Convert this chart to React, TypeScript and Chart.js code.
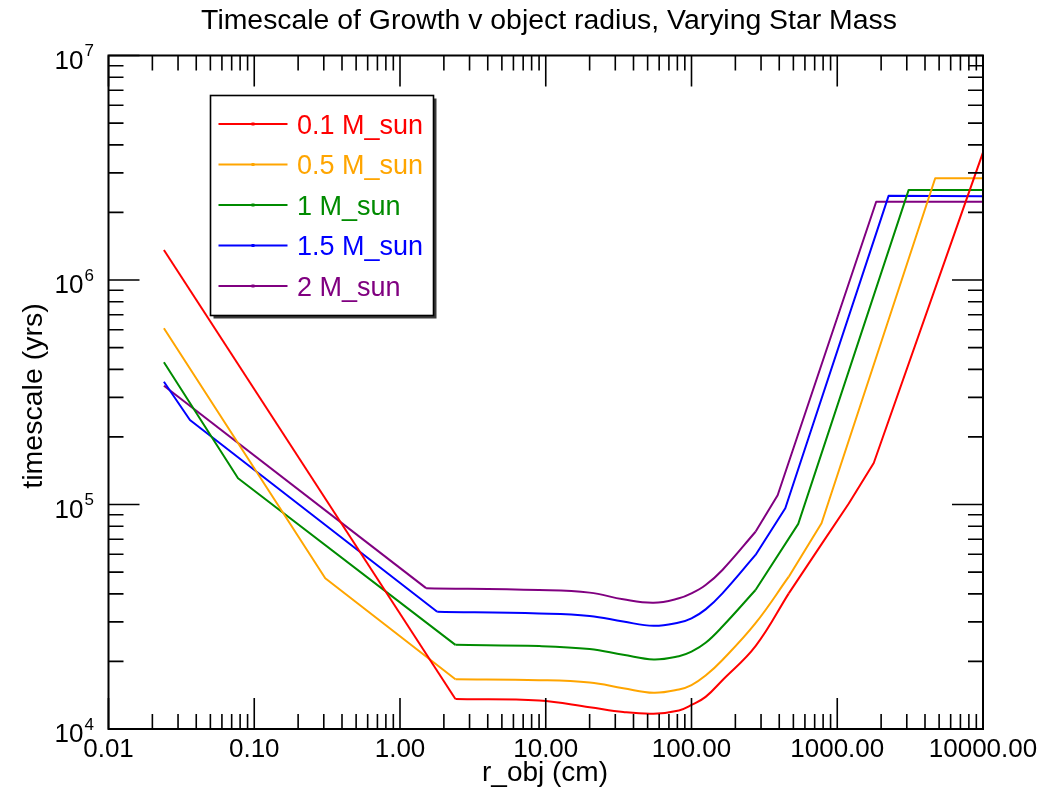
import React, { useEffect, useRef } from "react";
import { Chart, registerables } from "chart.js";

Chart.register(...registerables);

// ---- data ----
const seriesLabels = ["0.1 M_sun", "0.5 M_sun", "1 M_sun", "1.5 M_sun", "2 M_sun"];
const seriesColors = ["#ff0000", "#ffa500", "#008b00", "#0000ff", "#800080"];

const rRed = [0.024, 2.4, 9.0, 20, 34, 55, 82, 100, 125, 163, 275, 465, 787, 1200, 1780, 10000];
const tRed = [1.36e6, 1.36e4, 1.34e4, 1.25e4, 1.19e4, 1.17e4, 1.21e4, 1.28e4, 1.39e4, 1.65e4, 2.34e4, 4.02e4, 6.71e4, 1.01e5, 1.53e5, 3.7e6];

const rOrange = [0.024, 0.307, 2.4, 9.0, 20, 34, 55, 82, 100, 125, 163, 275, 465, 780, 4700, 10000];
const tOrange = [6.1e5, 4.69e4, 1.665e4, 1.65e4, 1.61e4, 1.52e4, 1.45e4, 1.5e4, 1.57e4, 1.73e4, 2.03e4, 2.96e4, 4.77e4, 8.25e4, 2.84e6, 2.84e6];

const rGreen = [0.024, 0.0774, 2.4, 9.0, 20, 34, 55, 82, 100, 125, 163, 275, 540, 3090, 10000];
const tGreen = [4.3e5, 1.31e5, 2.37e4, 2.34e4, 2.27e4, 2.14e4, 2.04e4, 2.11e4, 2.21e4, 2.42e4, 2.86e4, 4.16e4, 8.2e4, 2.52e6, 2.52e6];

const rBlue = [0.024, 0.0362, 1.8, 9.0, 20, 34, 55, 82, 100, 125, 163, 275, 440, 2250, 10000];
const tBlue = [3.52e5, 2.38e5, 3.33e4, 3.27e4, 3.19e4, 3.01e4, 2.88e4, 2.98e4, 3.11e4, 3.41e4, 4.02e4, 5.96e4, 9.62e4, 2.37e6, 2.36e6];

const rPurple = [0.024, 1.51, 9.0, 20, 34, 55, 82, 100, 125, 163, 275, 390, 1850, 10000];
const tPurple = [3.38e5, 4.24e4, 4.16e4, 4.05e4, 3.78e4, 3.65e4, 3.82e4, 4.02e4, 4.38e4, 5.11e4, 7.56e4, 1.1e5, 2.23e6, 2.23e6];

// index range of each series that is a smooth curve (the dip); the rest is straight
const curveStart = [1, 2, 2, 2, 1];
const curveEnd = [11, 12, 11, 11, 10];

const xTickValues = [0.01, 0.1, 1, 10, 100, 1000, 10000];
const xTickLabels = ["0.01", "0.10", "1.00", "10.00", "100.00", "1000.00", "10000.00"];
const yTickValues = [1e4, 1e5, 1e6, 1e7];
const yTickExponents = ["4", "5", "6", "7"];

const chartTitle = "Timescale of Growth v object radius, Varying Star Mass";
const xTitle = "r_obj (cm)";
const yTitle = "timescale (yrs)";

const FONT = '"Liberation Sans", Arial, Helvetica, sans-serif';

const seriesX = [rRed, rOrange, rGreen, rBlue, rPurple];
const seriesY = [tRed, tOrange, tGreen, tBlue, tPurple];

const framePlugin = {
  id: "idlFrame",
  afterDraw(chart: any) {
    const ctx = chart.ctx as CanvasRenderingContext2D;
    const xs = chart.scales.x;
    const ys = chart.scales.y;
    const { left, right, top, bottom } = chart.chartArea;
    ctx.save();
    ctx.strokeStyle = "#000";
    ctx.fillStyle = "#000";

    // frame
    ctx.lineWidth = 2;
    ctx.strokeRect(left, top, right - left, bottom - top);

    // ticks (inward, on all four sides)
    ctx.lineWidth = 1.6;
    const major = 31;
    const minor = 15;
    ctx.beginPath();
    for (let e = -2; e <= 4; e++) {
      for (let m = 1; m <= 9; m++) {
        const v = m * Math.pow(10, e);
        if (v > 10000 * 1.0001) break;
        const px = xs.getPixelForValue(v);
        const len = m === 1 ? major : minor;
        ctx.moveTo(px, bottom);
        ctx.lineTo(px, bottom - len);
        ctx.moveTo(px, top);
        ctx.lineTo(px, top + len);
      }
    }
    for (let e = 4; e <= 7; e++) {
      for (let m = 1; m <= 9; m++) {
        const v = m * Math.pow(10, e);
        if (v > 1e7 * 1.0001) break;
        const py = ys.getPixelForValue(v);
        const len = m === 1 ? major : minor;
        ctx.moveTo(left, py);
        ctx.lineTo(left + len, py);
        ctx.moveTo(right, py);
        ctx.lineTo(right - len, py);
      }
    }
    ctx.stroke();

    // x tick labels
    ctx.font = `26px ${FONT}`;
    ctx.textAlign = "center";
    ctx.textBaseline = "alphabetic";
    xTickValues.forEach((v, i) => {
      ctx.fillText(xTickLabels[i], xs.getPixelForValue(v), bottom + 28);
    });

    // y tick labels with superscript exponents
    yTickValues.forEach((v, i) => {
      const py = ys.getPixelForValue(v);
      ctx.font = `26px ${FONT}`;
      ctx.textAlign = "right";
      ctx.fillText("10", left - 25, py + 13);
      ctx.font = `17px ${FONT}`;
      ctx.textAlign = "left";
      ctx.fillText(yTickExponents[i], left - 24, py + 0.5);
    });

    // titles
    ctx.font = `28.4px ${FONT}`;
    ctx.textAlign = "center";
    ctx.fillText(chartTitle, 549, 28.5);
    ctx.font = `28px ${FONT}`;
    ctx.fillText(xTitle, 545, 781);
    ctx.save();
    ctx.translate(41.5, 396);
    ctx.rotate(-Math.PI / 2);
    ctx.font = `28.5px ${FONT}`;
    ctx.fillText(yTitle, 0, 0);
    ctx.restore();

    // legend
    const bx = 210.5, by = 95.5, bw = 223, bh = 220;
    ctx.fillStyle = "#3a3a3a";
    ctx.fillRect(bx + 3, by + 3, bw, bh);
    ctx.fillStyle = "#fff";
    ctx.fillRect(bx, by, bw, bh);
    ctx.lineWidth = 1.6;
    ctx.strokeStyle = "#000";
    ctx.strokeRect(bx, by, bw, bh);
    ctx.font = `27px ${FONT}`;
    ctx.textAlign = "left";
    seriesLabels.forEach((label, i) => {
      const ly = 124 + i * 40.5;
      const col = seriesColors[i];
      ctx.strokeStyle = col;
      ctx.lineWidth = 2;
      ctx.beginPath();
      ctx.moveTo(218.5, ly);
      ctx.lineTo(287.5, ly);
      ctx.stroke();
      ctx.fillStyle = col;
      ctx.fillRect(251.5, ly - 1.5, 3, 3);
      ctx.fillText(label, 297, ly + 9.5);
    });
    ctx.restore();
  },
};

export default function App() {
  const ref = useRef<HTMLCanvasElement | null>(null);
  useEffect(() => {
    if (!ref.current) return;
    const datasets: any[] = [];
    seriesLabels.forEach((label, i) => {
      const pts = seriesX[i].map((x, j) => ({ x, y: seriesY[i][j] }));
      const parts = [
        { data: pts.slice(0, curveStart[i] + 1), tension: 0 },
        { data: pts.slice(curveStart[i], curveEnd[i] + 1), tension: 0.4 },
        { data: pts.slice(curveEnd[i]), tension: 0 },
      ];
      parts.forEach((p) => {
        datasets.push({
          label,
          data: p.data,
          borderColor: seriesColors[i],
          backgroundColor: seriesColors[i],
          borderWidth: 2,
          borderJoinStyle: "round",
          pointRadius: 0,
          tension: p.tension,
          fill: false,
        });
      });
    });
    const chart = new Chart(ref.current, {
      type: "line",
      data: { datasets },
      options: {
        responsive: false,
        animation: false,
        parsing: false as any,
        layout: { padding: { left: 108.5, right: 63, top: 55.5, bottom: 68 } },
        scales: {
          x: { type: "logarithmic", min: 0.01, max: 10000, display: false },
          y: { type: "logarithmic", min: 1e4, max: 1e7, display: false },
        },
        plugins: { legend: { display: false }, tooltip: { enabled: false }, title: { display: false } },
      },
      plugins: [framePlugin],
    });
    return () => chart.destroy();
  }, []);
  return (
    <div style={{ position: "fixed", left: 0, top: 0, width: 1046, height: 797, background: "#fff" }}>
      <canvas ref={ref} width={1046} height={797} style={{ display: "block" }} />
    </div>
  );
}
